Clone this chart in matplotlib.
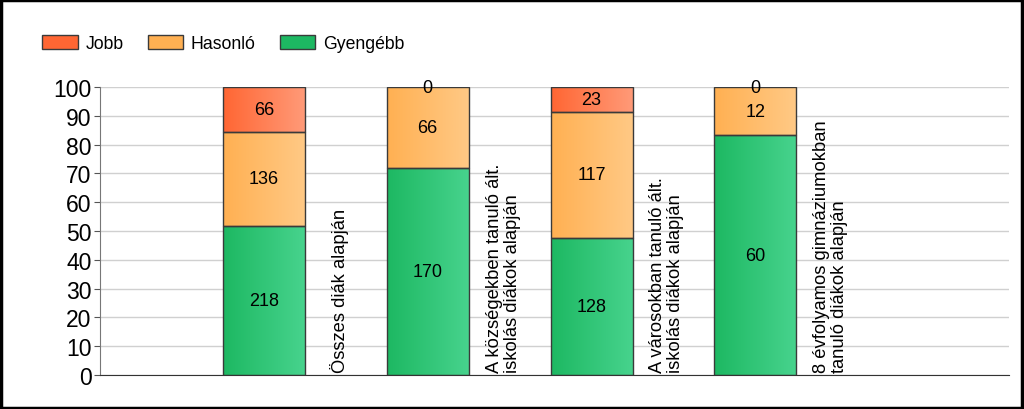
import numpy as np
import matplotlib
matplotlib.use("Agg")
import matplotlib.pyplot as plt
from matplotlib.patches import Rectangle
from matplotlib.colors import LinearSegmentedColormap

plt.rcParams['font.family'] = ['Liberation Sans', 'DejaVu Sans']

categories = ["Összes diák alapján",
              "A községekben tanuló ált.\niskolás diákok alapján",
              "A városokban tanuló ált.\niskolás diákok alapján",
              "8 évfolyamos gimnáziumokban\ntanuló diákok alapján"]
series = ["Jobb", "Hasonló", "Gyengébb"]
gyengebb = [218, 170, 128, 60]
hasonlo = [136, 66, 117, 12]
jobb = [66, 0, 23, 0]

# gradient colours (left -> right)
grads = {
    "Jobb": ("#ff6633", "#ff9a78"),
    "Hasonló": ("#ffb052", "#ffc985"),
    "Gyengébb": ("#1db862", "#47d38d"),
}

fig = plt.figure(figsize=(10.24, 4.1), dpi=100)
ax = fig.add_axes([0.0977, 0.083, 0.888, 0.702])

x = np.arange(1, len(categories) + 1)
width = 0.5
totals = np.array(gyengebb) + np.array(hasonlo) + np.array(jobb)
stack = [("Gyengébb", gyengebb), ("Hasonló", hasonlo), ("Jobb", jobb)]

grad = np.linspace(0, 1, 256).reshape(1, -1)
bottom = np.zeros(len(x))
for name, vals in stack:
    pct = np.array(vals) / totals * 100
    cmap = LinearSegmentedColormap.from_list(name, grads[name])
    for i in range(len(x)):
        x0 = x[i] - width / 2
        if pct[i] > 0:
            ax.imshow(grad, cmap=cmap, aspect='auto', zorder=2,
                      extent=[x0, x0 + width, bottom[i], bottom[i] + pct[i]])
            ax.add_patch(Rectangle((x0, bottom[i]), width, pct[i], fill=False,
                                   edgecolor="#3a3a3a", linewidth=1, zorder=3))
        ax.text(x[i], bottom[i] + pct[i] / 2, str(vals[i]), ha='center', va='center',
                fontsize=13, color='black', zorder=4)
    bottom += pct

for i, lab in enumerate(categories):
    ax.text(x[i] + 0.46, 1.2, lab, rotation=90, ha='center', va='bottom',
            multialignment='left', fontsize=13.2, linespacing=1.08, zorder=4)

ax.set_xlim(0, 5.55)
ax.set_ylim(0, 100)
ax.set_yticks(range(0, 101, 10))
ax.set_xticks([])
ax.tick_params(axis='y', labelsize=16.5, length=4, color='#555555', pad=2)
ax.grid(axis='y', color='#d0d0d0', linewidth=1, zorder=0)
ax.set_axisbelow(True)
for s in ['top', 'right']:
    ax.spines[s].set_visible(False)
ax.spines['left'].set_color('#777777')
ax.spines['bottom'].set_color('#333333')

# legend
handles = []
for name in series:
    c0, c1 = grads[name]
    handles.append(Rectangle((0, 0), 1, 1, facecolor=c0, edgecolor='#3a3a3a', linewidth=1))
fig.legend(handles, series, loc='upper left', bbox_to_anchor=(0.026, 0.952), ncol=3,
           frameon=False, fontsize=12.7, handlelength=2.0, handleheight=0.85,
           columnspacing=1.35, handletextpad=0.45)

fig.add_artist(Rectangle((0.001, 0.002), 0.997, 0.995, transform=fig.transFigure,
                         fill=False, edgecolor='black', linewidth=2.5))

fig.savefig("out.png", dpi=100)
